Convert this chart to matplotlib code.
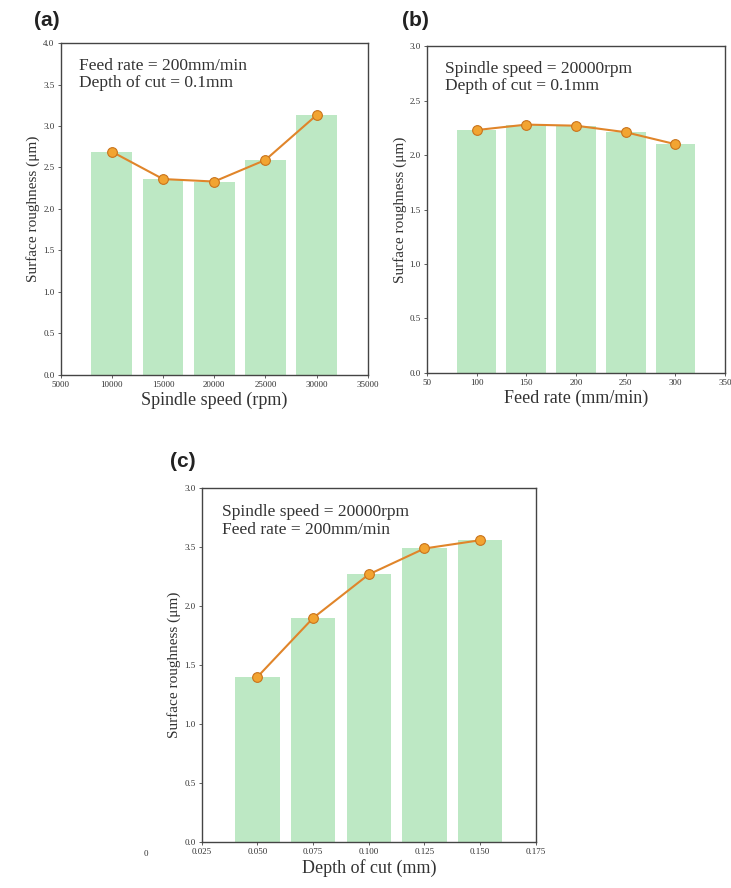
import matplotlib
matplotlib.use("Agg")
import matplotlib.pyplot as plt

# ── Datos ─────────────────────────────────────────────────────────────────────
speed = [10000, 15000, 20000, 25000, 30000]
ra_speed = [2.69, 2.36, 2.33, 2.59, 3.13]

feed = [100, 150, 200, 250, 300]
ra_feed = [2.23, 2.28, 2.27, 2.21, 2.10]

depth = [0.050, 0.075, 0.100, 0.125, 0.150]
ra_depth = [1.40, 1.90, 2.27, 2.49, 2.56]

ticks_c_x = [0.025, 0.050, 0.075, 0.100, 0.125, 0.150, 0.175]
ticks_c_lbl = ["0.025", "0.050", "0.075", "0.100", "0.125", "0.150", "0.175"]
ticks_c_y = [0.0, 0.5, 1.0, 1.5, 2.0, 2.5, 3.0]
ticks_c_ylbl = ["0.0", "0.5", "1.0", "1.5", "2.0", "3.5", "3.0"]

# ── Estilo ────────────────────────────────────────────────────────────────────
C_BAR = "#bde8c4"
C_LINE = "#e0852a"
C_MK = "#f2a431"
C_MK_EDGE = "#c9741c"
C_SPINE = "#444444"
C_TEXT = "#333333"
SERIF = "Liberation Serif"

plt.rcParams["font.family"] = SERIF


def panel(ax, x, y, width, xlim, xticks, ylim, yticks, xlabel, note):
    ax.bar(x, y, width=width, color=C_BAR, zorder=1)
    ax.plot(x, y, color=C_LINE, lw=1.5, zorder=2)
    ax.plot(x, y, "o", ms=7, mfc=C_MK, mec=C_MK_EDGE, mew=0.8, zorder=3)
    ax.set_xlim(*xlim)
    ax.set_ylim(*ylim)
    ax.set_xticks(xticks)
    ax.set_yticks(yticks)
    ax.tick_params(labelsize=6.5, length=2.5, width=0.6, colors=C_SPINE,
                   labelcolor=C_TEXT, pad=2)
    for s in ax.spines.values():
        s.set_color(C_SPINE)
        s.set_linewidth(1.0)
    ax.set_xlabel(xlabel, fontsize=13, color=C_TEXT, labelpad=2)
    ax.set_ylabel("Surface roughness (\u03bcm)", fontsize=11, color=C_TEXT,
                  labelpad=2)
    ax.text(0.06, 0.955, note, transform=ax.transAxes, ha="left", va="top",
            fontsize=12.5, color=C_TEXT, linespacing=1.1)


fig = plt.figure(figsize=(7.31, 8.88), dpi=100, facecolor="white")

ax_a = fig.add_axes([0.083, 0.578, 0.420, 0.3735])
ax_b = fig.add_axes([0.584, 0.580, 0.408, 0.368])
ax_c = fig.add_axes([0.276, 0.052, 0.457, 0.398])

panel(ax_a, speed, ra_speed, 4000, (5000, 35000),
      [5000, 10000, 15000, 20000, 25000, 30000, 35000],
      (0, 4.0), [0, 0.5, 1.0, 1.5, 2.0, 2.5, 3.0, 3.5, 4.0],
      "Spindle speed (rpm)",
      "Feed rate = 200mm/min\nDepth of cut = 0.1mm")
ax_a.set_yticklabels([f"{v:.1f}" for v in ax_a.get_yticks()])

panel(ax_b, feed, ra_feed, 40, (50, 350),
      [50, 100, 150, 200, 250, 300, 350],
      (0, 3.0), [0, 0.5, 1.0, 1.5, 2.0, 2.5, 3.0],
      "Feed rate (mm/min)",
      "Spindle speed = 20000rpm\nDepth of cut = 0.1mm")
ax_b.set_yticklabels([f"{v:.1f}" for v in ax_b.get_yticks()])

panel(ax_c, depth, ra_depth, 0.02, (0.025, 0.175), ticks_c_x,
      (0, 3.0), ticks_c_y,
      "Depth of cut (mm)",
      "Spindle speed = 20000rpm\nFeed rate = 200mm/min")
ax_c.set_xticklabels(ticks_c_lbl)
ax_c.set_yticklabels(ticks_c_ylbl)
# etiqueta huérfana a la izquierda del eje
ax_c.text(0.0, -0.022, "0", transform=ax_c.get_xaxis_transform(),
          ha="center", va="top", fontsize=6.5, color=C_TEXT, clip_on=False)

for lbl, (x, y) in [("(a)", (0.064, 0.977)), ("(b)", (0.568, 0.977)),
                    ("(c)", (0.250, 0.480))]:
    fig.text(x, y, lbl, ha="center", va="center", fontsize=15,
             fontweight="bold", family="Liberation Sans", color="#222222")

plt.savefig("out.png", dpi=100, facecolor="white")
plt.close()
